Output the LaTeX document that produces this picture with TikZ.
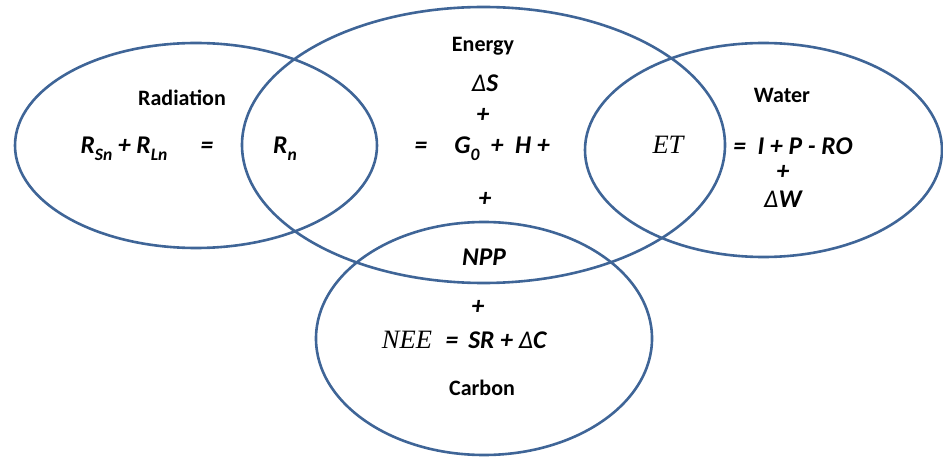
\documentclass[tikz,border=0pt]{standalone}
\usepackage{fontspec}
\setmainfont{Carlito}
\newfontfamily\timesfont{Liberation Serif}
\definecolor{ringblue}{HTML}{3F6597}
\newcommand\subs[1]{\raisebox{-0.25em}{\fontsize{17.5}{20}\selectfont #1}}
\newcommand\dlt{{\mdseries Δ}}
\tikzset{
  ring/.style={draw=ringblue, line width=2.6pt},
  eq/.style={font=\fontsize{25.5}{29}\selectfont\bfseries\itshape, anchor=base, inner sep=0pt},
  lbl/.style={font=\fontsize{22}{26}\selectfont\bfseries, anchor=base, inner sep=0pt},
  tms/.style={font=\fontsize{26.5}{30}\selectfont\timesfont\itshape, anchor=base, inner sep=0pt},
  pl/.style={font=\fontsize{25.5}{29}\selectfont\bfseries\itshape, inner sep=0pt},
}
\begin{document}
\begin{tikzpicture}[x=1pt,y=-1pt]
\useasboundingbox (0,0) rectangle (943,457);
% rings
\draw[ring] (196,145.5) ellipse [x radius=181pt, y radius=102.5pt];
\draw[ring] (483.5,145) ellipse [x radius=241.5pt, y radius=138pt];
\draw[ring] (763.5,150) ellipse [x radius=178.5pt, y radius=107pt];
\draw[ring] (484,338.5) ellipse [x radius=168pt, y radius=116.5pt];
% radiation
\node[lbl] (radl) at (182,106) {Radiation};
\node[eq] (rsl) at (124,154) {R\subs{Sn} + R\subs{Ln}};
\node[eq] (req) at (207,154) {=};
\node[eq] (rn) at (285,154) {R\subs{n}};
% energy
\node[lbl] (enl) at (483,52) {Energy};
\node[eq] (ds) at (485,92) {\dlt S};
\node[pl] (ep1) at (483,115) {+};
\node[eq] (eeq) at (421,154) {=};
\node[eq] (gh) at (502,154) {G\subs{0} ~+~ H +};
\node[tms] (et) at (668,154) {ET};
\node[pl] (ep2) at (485,199) {+};
\node[eq] (npp) at (484,266) {NPP};
% water
\node[lbl] (wal) at (782,103) {Water};
\node[eq] (wr) at (793,155) {= ~I + P - RO};
\node[pl] (wp) at (783,172) {+};
\node[eq] (dw) at (783,208) {\dlt W};
% carbon
\node[pl] (cp) at (478,307) {+};
\node[tms] (nee) at (407,348) {NEE};
\node[eq] (sr) at (496,348) {= \,SR + \dlt C};
\node[lbl] (cal) at (482,395) {Carbon};
\end{tikzpicture}
\end{document}
